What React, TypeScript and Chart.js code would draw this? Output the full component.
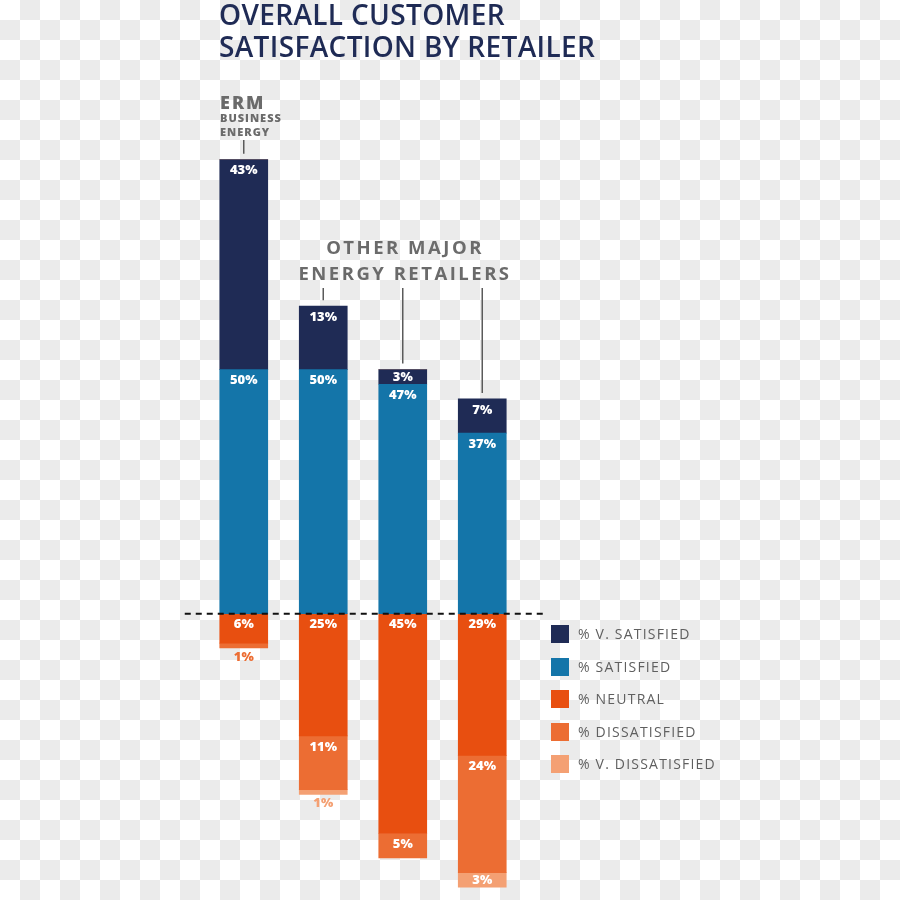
import React, { useEffect, useRef } from "react";
import { Chart, registerables } from "chart.js";

Chart.register(...registerables);

// ---- data ----
const retailers = ["ERM Business Energy", "Retailer A", "Retailer B", "Retailer C"];
const seriesNames = ["% V. SATISFIED", "% SATISFIED", "% NEUTRAL", "% DISSATISFIED", "% V. DISSATISFIED"];
const seriesColors = ["#1f2b55", "#1475a9", "#e84f10", "#ec6d33", "#f4a073"];
const vSatisfied = [43, 13, 3, 7];
const satisfied = [50, 50, 47, 37];
const neutral = [6, 25, 45, 29];
const dissatisfied = [1, 11, 5, 24];
const vDissatisfied = [0, 1, 0, 3];
const titleLines = ["OVERALL CUSTOMER", "SATISFACTION BY RETAILER"];
const ermLines = ["ERM", "BUSINESS", "ENERGY"];
const otherLines = ["OTHER MAJOR", "ENERGY RETAILERS"];

const FONT = "'Open Sans', 'Noto Sans', sans-serif";

const labelsPlugin = {
  id: "segLabels",
  afterDatasetsDraw(chart: any) {
    const ctx = chart.ctx;
    const x = chart.scales.x;
    const y = chart.scales.y;
    const y0 = y.getPixelForValue(0);
    ctx.save();
    // dashed baseline
    ctx.strokeStyle = "#111";
    ctx.lineWidth = 2;
    ctx.setLineDash([6, 5]);
    ctx.beginPath();
    ctx.moveTo(x.getPixelForValue(0) - 59, y0);
    ctx.lineTo(x.getPixelForValue(retailers.length - 1) + 61, y0);
    ctx.stroke();
    ctx.setLineDash([]);

    // leader lines
    const topMeta = chart.getDatasetMeta(1); // v. satisfied (top segment)
    ctx.strokeStyle = "#5a5a5a";
    ctx.lineWidth = 1.5;
    topMeta.data.forEach((el: any, i: number) => {
      const startY = i === 0 ? 140 : 288;
      ctx.beginPath();
      ctx.moveTo(el.x, startY);
      ctx.lineTo(el.x, el.y - 6);
      ctx.stroke();
    });

    // segment labels
    ctx.font = `800 13px ${FONT}`;
    ctx.textAlign = "center";
    ctx.textBaseline = "middle";
    chart.data.datasets.forEach((ds: any, di: number) => {
      const meta = chart.getDatasetMeta(di);
      meta.data.forEach((el: any, i: number) => {
        const v = Math.abs(ds.data[i]);
        if (!v) return;
        const top = Math.min(el.y, el.base);
        const bottom = Math.max(el.y, el.base);
        const h = bottom - top;
        if (h < 10) {
          ctx.fillStyle = ds.backgroundColor;
          ctx.fillText(v + "%", el.x, bottom + 9);
        } else {
          ctx.fillStyle = "#ffffff";
          ctx.fillText(v + "%", el.x, Math.min(top + 11, (top + bottom) / 2));
        }
      });
    });
    ctx.restore();
  },
};

export default function App() {
  const ref = useRef<HTMLCanvasElement | null>(null);
  useEffect(() => {
    if (!ref.current) return;
    const chart = new Chart(ref.current, {
      type: "bar",
      data: {
        labels: retailers,
        datasets: [
          { label: seriesNames[1], data: satisfied, backgroundColor: seriesColors[1] },
          { label: seriesNames[0], data: vSatisfied, backgroundColor: seriesColors[0] },
          { label: seriesNames[2], data: neutral.map((v) => -v), backgroundColor: seriesColors[2] },
          { label: seriesNames[3], data: dissatisfied.map((v) => -v), backgroundColor: seriesColors[3] },
          { label: seriesNames[4], data: vDissatisfied.map((v) => -v), backgroundColor: seriesColors[4] },
        ],
      },
      options: {
        responsive: false,
        animation: false,
        layout: { padding: { top: 145, bottom: 3, left: 204, right: 378 } },
        datasets: { bar: { barThickness: 48 } } as any,
        plugins: {
          legend: { display: false },
          tooltip: { enabled: false },
          title: { display: false },
        },
        scales: {
          x: { stacked: true, display: false },
          y: { stacked: true, display: false, min: -58, max: 96 },
        },
      },
      plugins: [labelsPlugin],
    });
    return () => chart.destroy();
  }, []);

  const gray = "#6b6b6b";
  return (
    <div
      style={{
        position: "absolute",
        left: 0,
        top: 0,
        width: 900,
        height: 900,
        overflow: "hidden",
        background: "repeating-conic-gradient(#ebebeb 0 25%, #ffffff 0 50%) 0 0 / 40px 40px",
        fontFamily: FONT,
      }}
    >
      <canvas ref={ref} width={900} height={900} style={{ position: "absolute", left: 0, top: 0, width: 900, height: 900 }} />
      <div
        style={{
          position: "absolute",
          left: 219,
          top: -2,
          fontSize: 28,
          lineHeight: "32px",
          fontWeight: 600,
          color: "#1f2b55",
          letterSpacing: 0.35,
          whiteSpace: "nowrap",
        }}
      >
        {titleLines.map((t) => (
          <div key={t}>{t}</div>
        ))}
      </div>
      <div style={{ position: "absolute", left: 220, top: 93, fontSize: 18, lineHeight: "18px", fontWeight: 800, color: gray, letterSpacing: 2 }}>
        {ermLines[0]}
      </div>
      <div style={{ position: "absolute", left: 220, top: 112, fontSize: 11, lineHeight: "11px", fontWeight: 800, color: gray, letterSpacing: 1 }}>
        {ermLines[1]}
      </div>
      <div style={{ position: "absolute", left: 220, top: 126, fontSize: 11, lineHeight: "11px", fontWeight: 800, color: gray, letterSpacing: 1 }}>
        {ermLines[2]}
      </div>
      <div
        style={{
          position: "absolute",
          left: 254,
          width: 302,
          top: 234,
          textAlign: "center",
          fontSize: 18.5,
          lineHeight: "26px",
          fontWeight: 700,
          color: gray,
          letterSpacing: 2.5,
          whiteSpace: "nowrap",
        }}
      >
        {otherLines.map((t) => (
          <div key={t}>{t}</div>
        ))}
      </div>
      {seriesNames.map((name, i) => (
        <div
          key={name}
          style={{
            position: "absolute",
            left: 551,
            top: 625 + i * 32.5,
            height: 18,
            display: "flex",
            alignItems: "center",
            whiteSpace: "nowrap",
          }}
        >
          <div style={{ width: 18, height: 18, background: seriesColors[i], marginRight: 9 }} />
          <span style={{ fontSize: 14, lineHeight: "18px", letterSpacing: 1.2, color: "#5f5f5f" }}>{name}</span>
        </div>
      ))}
    </div>
  );
}
